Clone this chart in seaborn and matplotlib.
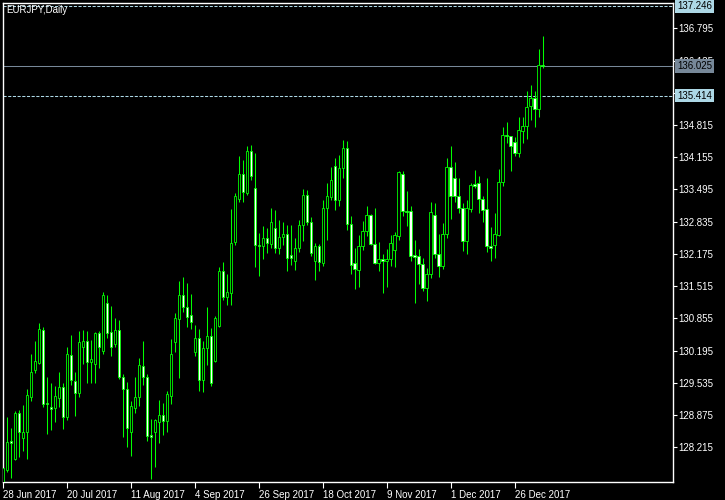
import matplotlib
matplotlib.use("Agg")
import matplotlib.pyplot as plt
import matplotlib.transforms as mtransforms
import seaborn as sns

# Daily EURJPY bars (one entry per bar, oldest first)
opens = [127.45, 127.76, 128.34, 127.98, 128.91, 128.41, 128.53, 129.25, 129.80, 129.95,
         130.61, 129.12, 129.05, 129.01, 129.22, 129.44, 128.84, 130.10, 129.57, 129.33,
         130.27, 130.39, 129.96, 129.92, 130.55, 130.19, 131.18, 130.58, 130.34, 130.61,
         129.66, 129.40, 128.52, 129.01, 129.24, 129.87, 129.66, 128.46, 128.52, 128.73,
         128.87, 128.75, 129.27, 130.37, 130.84, 131.33, 131.08, 130.92, 130.17, 130.45,
         129.59, 130.24, 130.49, 129.99, 130.70, 131.82, 131.30, 131.37, 132.41, 133.31,
         133.82, 133.42, 134.28, 133.52, 132.36, 132.33, 132.50, 132.38, 132.70, 132.29,
         132.52, 132.58, 132.16, 132.02, 132.29, 132.77, 133.38, 132.82, 132.04, 132.34,
         131.99, 133.11, 133.35, 133.97, 133.27, 133.93, 134.34, 132.78, 131.98, 131.85,
         132.34, 132.65, 132.97, 132.37, 131.99, 132.08, 132.02, 132.08, 132.26, 132.55,
         133.82, 133.06, 133.05, 132.15, 132.13, 131.96, 131.48, 131.76, 132.97, 132.17,
         131.93, 132.58, 133.96, 133.73, 133.37, 133.11, 132.43, 133.09, 133.60, 133.62,
         133.31, 133.09, 132.33, 132.36, 132.56, 133.64, 134.61, 134.58, 134.46, 134.25,
         134.70, 134.80, 135.21, 135.36, 135.14, 136.04]
highs = [127.83, 128.83, 128.60, 128.96, 128.98, 129.08, 129.41, 130.12, 130.39, 130.76,
         130.68, 129.66, 129.54, 129.47, 129.75, 129.54, 130.27, 130.52, 129.75, 130.60,
         130.62, 130.60, 130.41, 130.58, 130.60, 131.40, 131.33, 131.11, 130.86, 130.82,
         129.71, 129.56, 129.16, 129.66, 130.04, 130.39, 129.71, 128.79, 128.79, 129.18,
         129.12, 129.36, 130.43, 130.96, 131.62, 131.70, 131.58, 131.36, 130.72, 130.64,
         130.39, 131.09, 130.66, 130.90, 131.90, 132.01, 131.76, 133.09, 133.43, 134.18,
         134.10, 134.39, 134.41, 134.24, 132.60, 132.75, 132.70, 133.12, 133.07, 132.88,
         132.82, 132.77, 132.77, 132.50, 132.87, 133.50, 133.48, 132.94, 132.39, 132.38,
         133.28, 133.63, 133.96, 134.13, 134.20, 134.51, 134.49, 132.95, 132.29, 132.56,
         132.85, 133.16, 132.99, 133.12, 132.41, 132.17, 132.27, 132.56, 132.63, 133.87,
         133.87, 133.46, 133.16, 132.46, 132.28, 132.10, 131.88, 133.23, 133.21, 132.58,
         132.80, 134.13, 134.39, 134.06, 133.74, 133.21, 133.28, 133.62, 133.89, 133.77,
         133.36, 133.74, 132.73, 133.02, 133.91, 134.78, 134.88, 134.59, 134.56, 134.97,
         134.97, 135.51, 135.63, 135.51, 136.37, 136.64]
lows = [127.35, 127.71, 127.58, 127.95, 128.02, 128.14, 127.98, 129.16, 129.74, 129.93,
        129.03, 128.49, 128.57, 128.74, 129.05, 128.58, 128.77, 129.49, 128.86, 129.25,
        129.92, 129.54, 129.54, 129.54, 129.83, 130.12, 130.45, 130.09, 130.27, 129.61,
        128.43, 128.23, 128.04, 128.91, 129.07, 129.50, 128.35, 127.57, 127.82, 128.31,
        128.47, 128.52, 129.10, 130.16, 129.63, 130.99, 130.68, 130.64, 130.08, 129.37,
        129.35, 129.91, 129.46, 129.96, 130.67, 131.23, 131.13, 131.13, 132.36, 133.24,
        133.24, 133.38, 133.69, 131.91, 131.73, 132.07, 132.19, 132.29, 132.19, 132.17,
        132.36, 131.82, 131.95, 131.85, 132.22, 132.44, 132.77, 132.14, 131.64, 131.82,
        131.93, 132.46, 133.28, 133.07, 133.16, 133.74, 132.66, 131.76, 131.45, 131.50,
        132.26, 132.55, 132.36, 131.97, 131.82, 131.38, 131.50, 131.93, 131.91, 132.46,
        132.95, 132.75, 132.03, 131.16, 131.55, 131.42, 131.21, 131.69, 132.09, 131.71,
        131.86, 132.51, 132.89, 133.24, 133.01, 132.24, 132.17, 133.04, 133.52, 133.01,
        132.83, 132.22, 132.04, 132.10, 132.55, 133.57, 134.44, 133.88, 134.18, 134.15,
        134.45, 134.53, 134.92, 134.78, 134.98, 135.98]
closes = [127.79, 128.32, 128.30, 128.92, 128.52, 128.52, 129.29, 129.75, 129.98, 130.64,
          129.11, 129.10, 129.00, 129.26, 129.44, 128.83, 130.12, 129.59, 129.33, 130.37,
          130.39, 129.96, 130.03, 130.55, 130.26, 131.33, 130.55, 130.26, 130.61, 129.66,
          129.40, 128.60, 129.07, 129.24, 129.89, 129.66, 128.45, 128.43, 128.77, 128.87,
          128.75, 129.30, 130.12, 130.86, 131.33, 131.08, 130.89, 130.79, 130.45, 129.59,
          130.24, 130.49, 129.54, 130.86, 131.82, 131.30, 131.39, 132.39, 133.36, 133.82,
          133.44, 134.28, 133.77, 132.36, 132.34, 132.50, 132.39, 132.82, 132.29, 132.52,
          132.58, 132.10, 132.10, 132.29, 132.77, 133.38, 132.82, 132.19, 132.34, 132.00,
          133.11, 133.36, 133.69, 133.27, 133.93, 134.34, 132.78, 131.95, 131.86, 132.34,
          132.65, 132.97, 132.38, 131.99, 132.08, 132.02, 132.08, 132.39, 132.56, 133.85,
          133.05, 133.04, 132.14, 132.12, 131.96, 131.48, 131.76, 133.03, 132.17, 131.93,
          132.58, 133.95, 133.37, 133.37, 133.11, 132.43, 133.11, 133.59, 133.57, 133.31,
          133.07, 132.34, 132.30, 132.58, 133.64, 134.61, 134.58, 134.39, 134.25, 134.71,
          134.80, 135.18, 135.36, 135.14, 136.04, 136.025]

tick_bars = [0, 16, 32, 48, 64, 80, 96, 112, 128]
tick_dates = ["28 Jun 2017", "20 Jul 2017", "11 Aug 2017", "4 Sep 2017", "26 Sep 2017",
              "18 Oct 2017", "9 Nov 2017", "1 Dec 2017", "26 Dec 2017"]
price_ticks = [128.215, 128.875, 129.535, 130.195, 130.855, 131.515, 132.175,
               132.835, 133.495, 134.155, 134.815, 135.475, 136.135, 136.795]
level_prices = [137.246, 135.414]
bid_price = 136.025

LIME = "#00ff00"
LEVEL = "#add8e6"
BID = "#778899"

sns.set_theme(style="dark")
plt.rcParams["font.family"] = ["Liberation Sans", "DejaVu Sans"]

fig = plt.figure(figsize=(7.25, 5), dpi=100, facecolor="black")
ax = fig.add_axes([3 / 725, 18 / 500, 669.5 / 725, 479 / 500])
ax.set_facecolor("black")

idx = list(range(len(opens)))
bottoms = [min(o, c) for o, c in zip(opens, closes)]
heights = [max(abs(c - o), 0.008) for o, c in zip(opens, closes)]
fills = ["white" if c < o else "black" for o, c in zip(opens, closes)]

ax.vlines(idx, lows, highs, color=LIME, linewidth=0.75, zorder=2)
ax.bar(idx, heights, bottom=bottoms, width=0.62, color=fills,
       edgecolor=LIME, linewidth=0.6, zorder=3)

for p in level_prices:
    ax.axhline(p, color=LEVEL, linewidth=0.75, linestyle=(0, (3, 1.5)), zorder=1)
ax.axhline(bid_price, color=BID, linewidth=0.75, zorder=1)

ax.set_xlim(0.125, 167.5)
ax.set_ylim(127.504, 137.314)
ax.grid(False)

ax.set_xticks(tick_bars)
ax.set_xticklabels(tick_dates, ha="left")
ax.yaxis.tick_right()
ax.set_yticks(price_ticks)
ax.set_yticklabels(["%.3f" % v for v in price_ticks])
ax.tick_params(axis="x", colors="white", labelsize=7, length=4, width=0.8, pad=1.5,
               direction="out", bottom=True)
ax.tick_params(axis="y", colors="white", labelsize=7, length=3, width=0.8, pad=1.5,
               direction="out", right=True, left=False)
for spine in ax.spines.values():
    spine.set_color("white")
    spine.set_linewidth(1)

# price labels for the horizontal lines on the right scale
trans = mtransforms.blended_transform_factory(ax.transAxes, ax.transData)
for p in level_prices:
    ax.text(1.0068, p, "%.3f" % p, transform=trans, color="black", fontsize=7,
            ha="left", va="center", clip_on=False, zorder=5,
            bbox=dict(facecolor=LEVEL, edgecolor="none", pad=1.2))
ax.text(1.0068, bid_price, "%.3f" % bid_price, transform=trans, color="black", fontsize=7,
        ha="left", va="center", clip_on=False, zorder=5,
        bbox=dict(facecolor=BID, edgecolor="none", pad=1.2))

ax.text(0.0045, 0.9958, "EURJPY,Daily", transform=ax.transAxes, color="white",
        fontsize=7, ha="left", va="top")

fig.savefig("out.png", dpi=100, facecolor="black")
